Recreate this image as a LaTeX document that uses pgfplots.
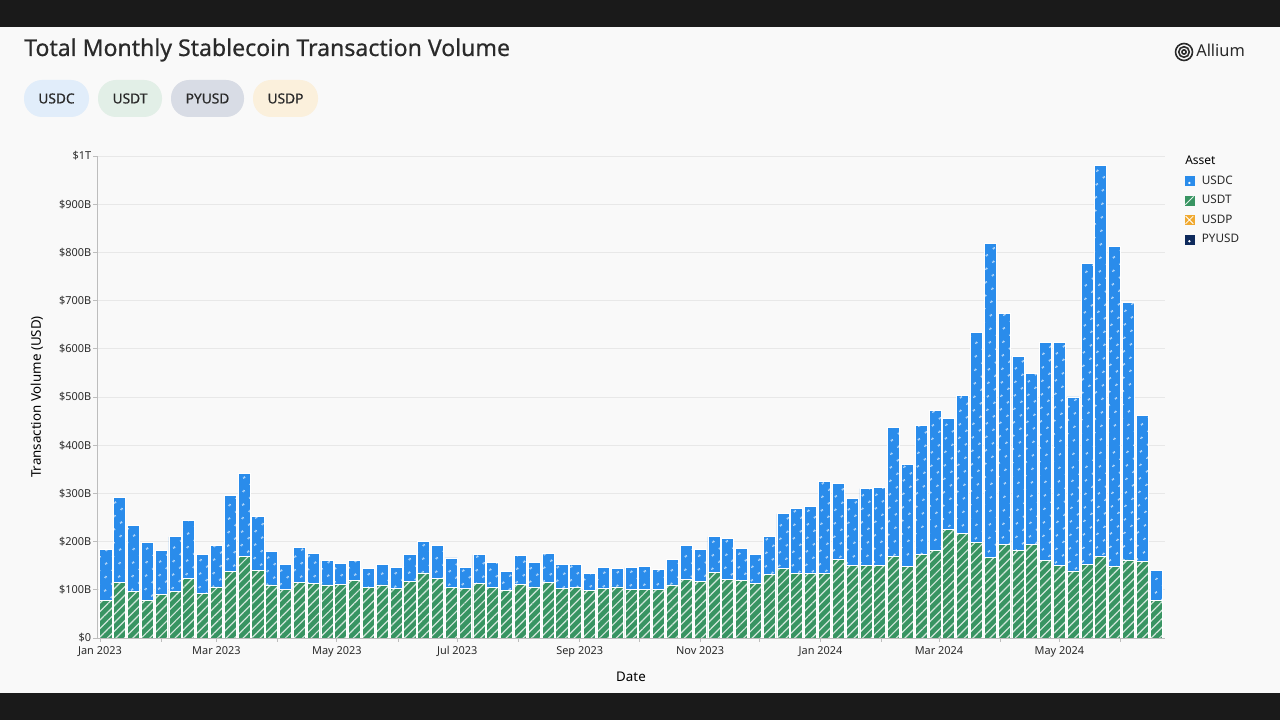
\documentclass[border=0pt]{standalone}
\usepackage{fontspec}
\setmainfont{Noto Sans}
\newfontfamily\medfont[FakeBold=0.6]{Noto Sans}
\usepackage{pgfplots}
\usepackage{pgfplotstable}
\pgfplotsset{compat=1.18}
\usetikzlibrary{patterns.meta}
\definecolor{usdcblue}{HTML}{2A8CEB}
\definecolor{usdtgreen}{HTML}{389462}
\definecolor{usdporange}{HTML}{F0A930}
\definecolor{pyusdnavy}{HTML}{0E2A5C}
\definecolor{bg}{HTML}{F9F9F9}
\definecolor{gridc}{HTML}{E8E8E8}
\definecolor{axc}{HTML}{BDBDBD}
\definecolor{txt}{HTML}{2A2A2A}
\definecolor{band}{HTML}{1A1A1A}
\definecolor{pillA}{HTML}{E1EDFA}
\definecolor{pillB}{HTML}{E2EFE7}
\definecolor{pillC}{HTML}{D8DCE5}
\definecolor{pillD}{HTML}{FBF0DC}

\pgfplotstableread{
x usdt usdc
3 78 105
10 115 177
17 96 138
24 78 120
31 91 90
38 96 114
45 123 120
52 92 82
59 106 86
66 138 157
73 170 172
80 140 112
87 110 69
94 101 52
101 116 71
108 113 63
115 110 50
122 112 43
129 120 40
136 105 39
143 110 42
150 102 44
157 118 55
164 135 66
171 124 68
178 105 61
185 102 45
192 114 59
199 105 51
206 99 39
213 112 60
220 106 50
227 116 59
234 102 50
241 104 48
248 98 35
255 103 43
262 106 38
269 100 46
276 100 49
283 100 42
290 110 53
297 121 71
304 118 65
311 136 74
318 122 84
325 119 67
332 114 59
339 131 79
346 144 114
353 134 135
360 134 138
367 133 192
374 163 158
381 150 140
388 150 160
395 151 161
402 169 268
409 148 212
416 174 267
423 182 291
430 226 229
437 216 288
444 198 435
451 168 650
458 194 480
465 182 403
472 195 354
479 160 454
486 150 464
493 139 361
500 152 625
507 169 811
514 149 663
521 162 535
528 158 303
535 77 63
}\data

\begin{document}
\begin{tikzpicture}
\begin{scope}[x=0.75pt,y=0.75pt]
\fill[bg] (0,0) rectangle (1280,720);
\fill[band] (0,693) rectangle (1280,720);
\fill[band] (0,0) rectangle (1280,27);
% title
\node[anchor=base west, inner sep=0pt, text=txt, font=\medfont\fontsize{17.3}{20}\selectfont] at (24,664) {Total Monthly Stablecoin Transaction Volume};
% pills
\fill[pillA, rounded corners=13.5pt] (24,603) rectangle (89,640);
\fill[pillB, rounded corners=13.5pt] (98,603) rectangle (162,640);
\fill[pillC, rounded corners=13.5pt] (171,603) rectangle (244,640);
\fill[pillD, rounded corners=13.5pt] (253,603) rectangle (318,640);
\node[text=txt, font=\medfont\fontsize{10.3}{12}\selectfont] at (56.5,621.5) {USDC};
\node[text=txt, font=\medfont\fontsize{10.3}{12}\selectfont] at (130,621.5) {USDT};
\node[text=txt, font=\medfont\fontsize{10.3}{12}\selectfont] at (207.5,621.5) {PYUSD};
\node[text=txt, font=\medfont\fontsize{10.3}{12}\selectfont] at (285.5,621.5) {USDP};
% logo
\draw[txt, line width=1.2pt] (1184,668) circle (8.5);
\draw[txt, line width=1.2pt] (1184,668) circle (5.3);
\draw[txt, line width=1.2pt] (1184,668) circle (2.1);
\node[anchor=base west, inner sep=0pt, text=txt, font=\fontsize{12.3}{14}\selectfont] at (1196,663) {Allium};
% legend title
\node[anchor=base west, inner sep=0pt, text=black, font=\bfseries\fontsize{9}{11}\selectfont] at (1185,555) {Asset};
\end{scope}
\begin{axis}[
  at={(72.75pt,61.5pt)}, anchor=south west,
  scale only axis, width=801pt, height=361.5pt,
  xmin=-1.5, xmax=539.5, ymin=0, ymax=1000,
  ybar stacked, bar width=6.1,
  axis lines*=left,
  axis line style={draw=axc, -},
  ymajorgrids, grid style={gridc, line width=0.6pt},
  tick style={draw=axc, line width=0.6pt},
  major tick length=3pt, tick align=outside,
  ytick={0,100,...,1000},
  yticklabels={\$0,\$100B,\$200B,\$300B,\$400B,\$500B,\$600B,\$700B,\$800B,\$900B,\$1T},
  xtick={0,31,59,90,120,151,181,212,243,273,304,334,365,396,425,456,486,517},
  xticklabels={Jan 2023,,Mar 2023,,May 2023,,Jul 2023,,Sep 2023,,Nov 2023,,Jan 2024,,Mar 2024,,May 2024,},
  ticklabel style={font=\fontsize{8.2}{10}\selectfont, text=txt},
  xticklabel style={text height=6.2pt, text depth=1.8pt},
  yticklabel style={inner sep=1.2pt},
  /pgf/number format/assume math mode=true,
  xlabel={Date}, ylabel={Transaction Volume (USD)},
  label style={font=\medfont\fontsize{10.5}{12}\selectfont, text=txt},
  every axis x label/.style={at={(axis description cs:0.5,0)}, anchor=center, yshift=-29.25pt},
  every axis y label/.style={at={(axis description cs:-0.0562,0.5)}, anchor=center, rotate=90},
  legend style={at={(rel axis cs:1,1)}, anchor=north west, xshift=14.5pt, yshift=-13.5pt,
    draw=none, fill=none, font=\fontsize{8.8}{10}\selectfont, text=txt,
    row sep=4.3pt, inner sep=0pt, legend cell align=left,
    nodes={inner sep=1.2pt},
    /tikz/every odd column/.append style={column sep=4.5pt}},
]
\addplot[forget plot, fill=usdtgreen, draw=white, line width=0.6pt,
  postaction={pattern={Lines[angle=45,distance=4.5pt,line width=0.9pt]}, pattern color=white!78!usdtgreen}]
  table[x=x, y=usdt]{\data};
\addplot[forget plot, fill=usdcblue, draw=white, line width=0.6pt,
  postaction={pattern={Dots[angle=45,distance=6.9pt,radius=0.9pt]}, pattern color=white}]
  table[x=x, y=usdc]{\data};
\addlegendimage{legend image code/.code={\fill[usdcblue] (0pt,-3.4pt) rectangle (6.8pt,3.4pt); \fill[white] (3.4pt,-1.4pt) circle (0.65pt);}}
\addlegendentry{USDC}
\addlegendimage{legend image code/.code={\fill[usdtgreen] (0pt,-3.4pt) rectangle (6.8pt,3.4pt); \draw[white!85!usdtgreen, line width=0.6pt] (0.3pt,-3.1pt)--(6.5pt,3.1pt);}}
\addlegendentry{USDT}
\addlegendimage{legend image code/.code={\fill[usdporange] (0pt,-3.4pt) rectangle (6.8pt,3.4pt); \draw[white, line width=0.6pt] (0.5pt,-2.9pt)--(6.3pt,2.9pt) (0.5pt,2.9pt)--(6.3pt,-2.9pt);}}
\addlegendentry{USDP}
\addlegendimage{legend image code/.code={\fill[pyusdnavy] (0pt,-3.4pt) rectangle (6.8pt,3.4pt); \fill[white] (3.4pt,-1.4pt) circle (0.65pt);}}
\addlegendentry{PYUSD}
\end{axis}
\end{tikzpicture}
\end{document}
